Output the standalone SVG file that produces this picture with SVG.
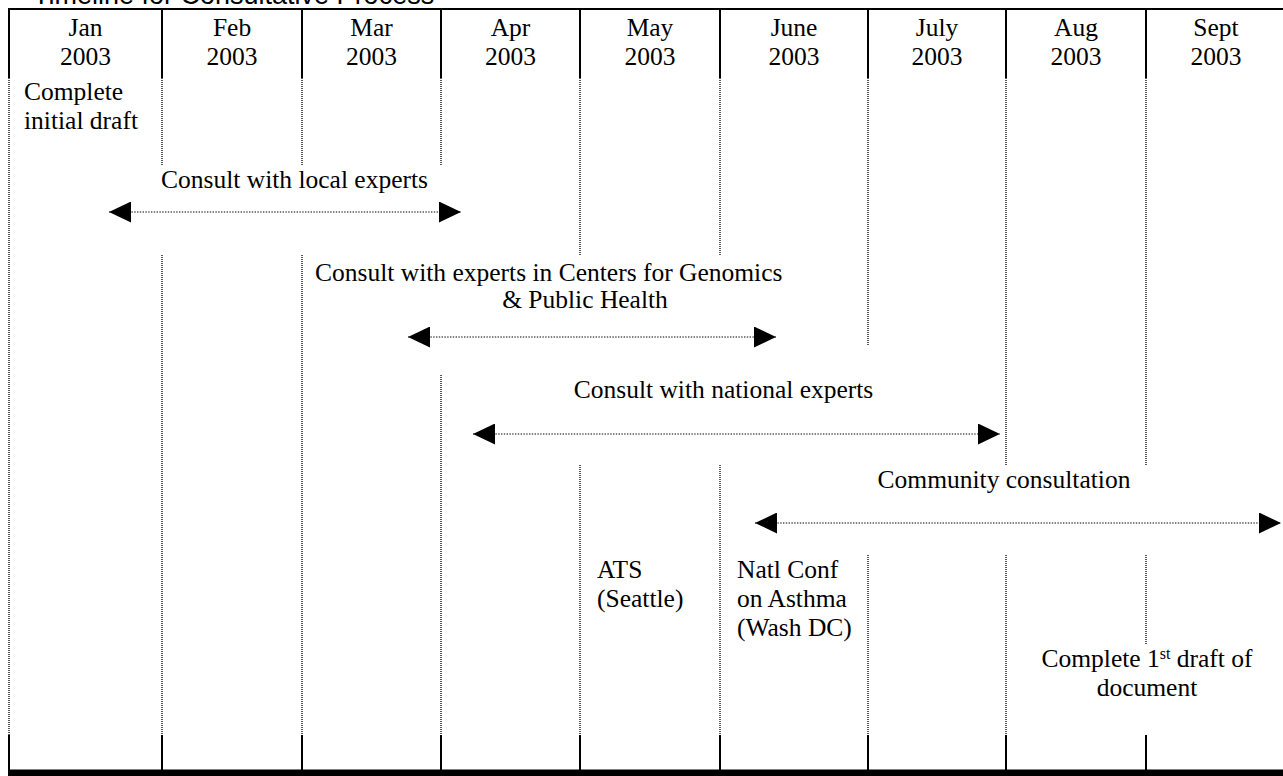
<svg xmlns="http://www.w3.org/2000/svg" width="1283" height="776" viewBox="0 0 1283 776">
<style>
  .t { font-family: "Liberation Serif", "Times New Roman", serif; font-size: 25.5px; fill: #000; }
  .c { text-anchor: middle; }
  .title { font-family: "Liberation Sans", Arial, sans-serif; font-size: 27px; fill: #000; }
  .solid { stroke: #000; stroke-width: 2; fill: none; }
  .dot { stroke: #222; stroke-width: 1.5; stroke-dasharray: 1 1; fill: none; }
  .conn { stroke: #000; stroke-width: 1.2; stroke-dasharray: 1.4 1.4; fill: none; marker-start: url(#head); marker-end: url(#head); }
</style>
<defs>
  <marker id="head" markerUnits="userSpaceOnUse" markerWidth="22" markerHeight="21" viewBox="0 0 22 21" refX="22" refY="10.5" orient="auto-start-reverse">
    <path d="M0,0 L22,10.5 L0,21 Z" fill="#000"/>
  </marker>
</defs>
<rect x="0" y="0" width="1283" height="776" fill="#fff"/>

<g id="title">
  <text class="title" x="33" y="4">Timeline for Consultative Process</text>
</g>

<g id="grid">
  <line class="solid" x1="8" y1="9" x2="1283" y2="9"/>
  <rect x="8" y="769.5" width="1275" height="6.5" fill="#000"/>
  <path class="solid" d="M9,9V78 M162,9V78 M302,9V78 M441,9V78 M580,9V78 M720,9V78 M868,9V78 M1006,9V78 M1146,9V78"/>
  <path class="solid" d="M9,735V770 M162,735V770 M302,735V770 M441,735V770 M580,735V770 M720,735V770 M868,735V770 M1006,735V770 M1146,735V770"/>
  <path class="dot" d="M9,78V735 M162,78V165 M162,255V735 M302,78V165 M302,255V735 M441,78V165 M441,375V735 M580,78V255 M580,465V735 M720,78V255 M720,465V735 M868,78V345 M868,555V735 M1006,78V465 M1006,555V735 M1146,78V465 M1146,555V645"/>
</g>

<g id="header">
  <g id="h-jan"><text class="t c" x="85.5" y="36">Jan</text><text class="t c" x="85.5" y="65">2003</text></g>
  <g id="h-feb"><text class="t c" x="232" y="36">Feb</text><text class="t c" x="232" y="65">2003</text></g>
  <g id="h-mar"><text class="t c" x="371.5" y="36">Mar</text><text class="t c" x="371.5" y="65">2003</text></g>
  <g id="h-apr"><text class="t c" x="510.5" y="36">Apr</text><text class="t c" x="510.5" y="65">2003</text></g>
  <g id="h-may"><text class="t c" x="650" y="36">May</text><text class="t c" x="650" y="65">2003</text></g>
  <g id="h-jun"><text class="t c" x="794" y="36">June</text><text class="t c" x="794" y="65">2003</text></g>
  <g id="h-jul"><text class="t c" x="937" y="36">July</text><text class="t c" x="937" y="65">2003</text></g>
  <g id="h-aug"><text class="t c" x="1076" y="36">Aug</text><text class="t c" x="1076" y="65">2003</text></g>
  <g id="h-sep"><text class="t c" x="1216" y="36">Sept</text><text class="t c" x="1216" y="65">2003</text></g>
</g>

<g id="draft">
  <text class="t" x="24" y="100">Complete</text>
  <text class="t" x="24" y="129">initial draft</text>
</g>
<g id="local">
  <text class="t c" x="294.5" y="188">Consult with local experts</text>
</g>
<g id="centers">
  <text class="t" x="315" y="281">Consult with experts in Centers for Genomics</text>
  <text class="t c" x="585" y="308">&amp; Public Health</text>
</g>
<g id="national">
  <text class="t c" x="723.5" y="398">Consult with national experts</text>
</g>
<g id="community">
  <text class="t c" x="1004" y="488">Community consultation</text>
</g>
<g id="ats">
  <text class="t" x="597" y="578">ATS</text>
  <text class="t" x="597" y="607">(Seattle)</text>
</g>
<g id="natlconf">
  <text class="t" x="737" y="578">Natl Conf</text>
  <text class="t" x="737" y="607">on Asthma</text>
  <text class="t" x="737" y="636">(Wash DC)</text>
</g>
<g id="firstdraft">
  <text class="t c" x="1147" y="667">Complete 1<tspan font-size="16" baseline-shift="super">st</tspan> draft of</text>
  <text class="t c" x="1147" y="696">document</text>
</g>

<g id="connectors">
  <line class="conn" x1="109" y1="212" x2="461" y2="212"/>
  <line class="conn" x1="408" y1="337" x2="776" y2="337"/>
  <line class="conn" x1="473" y1="434" x2="1000" y2="434"/>
  <line class="conn" x1="755" y1="523" x2="1281" y2="523"/>
</g>
</svg>
